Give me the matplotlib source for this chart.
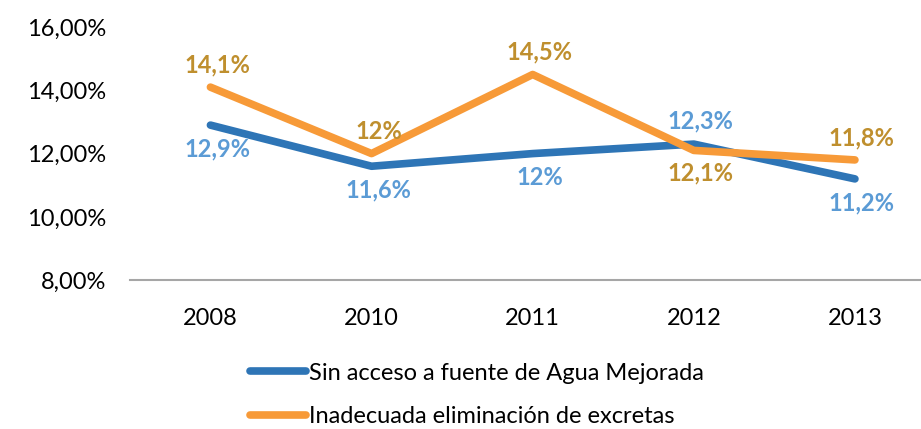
import numpy as np
import matplotlib.pyplot as plt

plt.rcParams['font.family'] = ['Lato', 'DejaVu Sans']

years = ['2008', '2010', '2011', '2012', '2013']
agua = [12.9, 11.6, 12.0, 12.3, 11.2]
excretas = [14.1, 12.0, 14.5, 12.1, 11.8]
yticks = [8, 10, 12, 14, 16]

# label side: +1 above the point, -1 below
agua_side = [-1, -1, -1, 1, -1]
excretas_side = [1, 1, 1, -1, 1]

c_agua = '#2E75B6'
c_exc = '#F79A38'
c_agua_lbl = '#5B9BD5'
c_exc_lbl = '#BF8F2E'

def pct(v):
    return ('%g' % v).replace('.', ',') + '%'

fig = plt.figure(figsize=(9.21, 4.29), dpi=100)
ax = fig.add_axes([0.141, 0.347, 0.859, 0.59])
x = np.arange(len(years))

ax.plot(x, agua, color=c_agua, lw=5.5, solid_capstyle='round', solid_joinstyle='round',
        label='Sin acceso a fuente de Agua Mejorada')
ax.plot(x, excretas, color=c_exc, lw=5.5, solid_capstyle='round', solid_joinstyle='round',
        label='Inadecuada eliminación de excretas')

for i in range(len(x)):
    ax.annotate(pct(agua[i]), (x[i], agua[i]), xytext=(5, 17 * agua_side[i]),
                textcoords='offset points', ha='center', va='center',
                color=c_agua_lbl, fontsize=17, fontweight='bold')
    ax.annotate(pct(excretas[i]), (x[i], excretas[i]), xytext=(5, 16 * excretas_side[i]),
                textcoords='offset points', ha='center', va='center',
                color=c_exc_lbl, fontsize=17, fontweight='bold')

ax.set_xlim(-0.5, 4.41)
ax.set_ylim(8, 16)
ax.set_xticks(x)
ax.set_xticklabels(years)
ax.set_yticks(yticks)
ax.set_yticklabels(['%d,00%%' % t for t in yticks])
ax.tick_params(length=0, labelsize=17, colors='#000000')
ax.tick_params(axis='y', pad=17)
ax.tick_params(axis='x', pad=20)
for s in ['top', 'right', 'left']:
    ax.spines[s].set_visible(False)
ax.spines['bottom'].set_color('#A6A6A6')
ax.spines['bottom'].set_linewidth(1.5)

fig.legend(loc='upper left', bbox_to_anchor=(0.271, 0.155), ncol=1, frameon=False,
           fontsize=17, handlelength=2.4, handletextpad=0.1, labelspacing=0.95,
           borderaxespad=0, borderpad=0)

fig.savefig('out.png', dpi=100)
